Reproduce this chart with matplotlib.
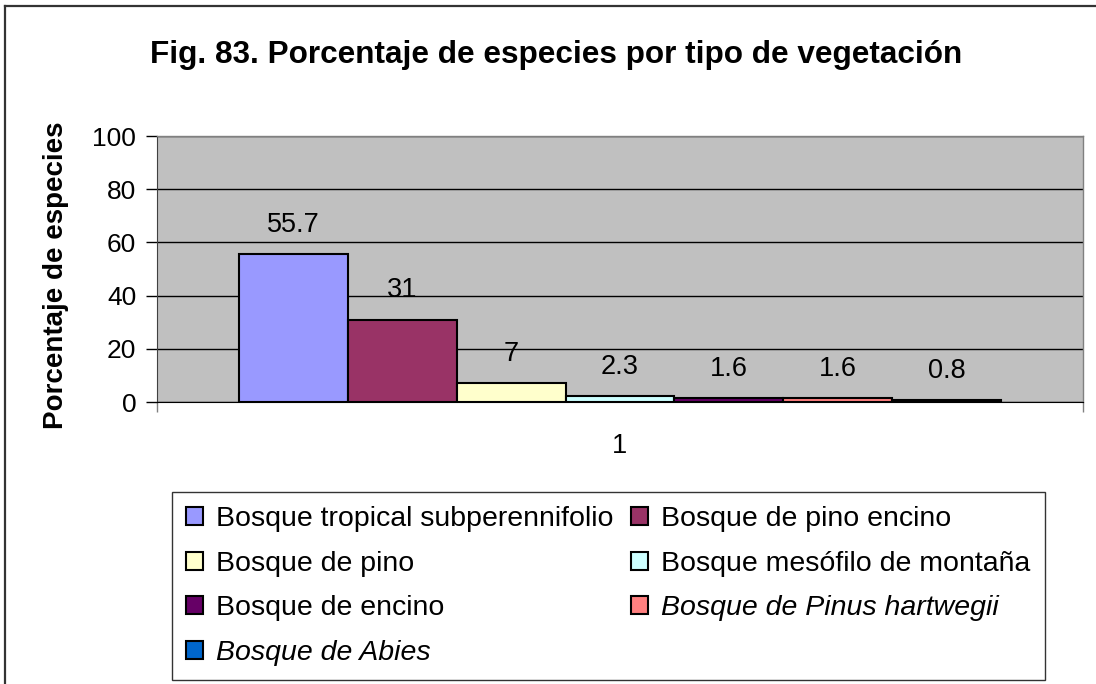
import numpy as np
import matplotlib
matplotlib.use('Agg')
from matplotlib import pyplot as plt
from matplotlib.lines import Line2D

plt.rcParams['font.family'] = ['Liberation Sans', 'DejaVu Sans']

# Porcentaje de especies por tipo de vegetacion
tipos = ['Bosque tropical subperennifolio', 'Bosque de pino encino',
         'Bosque de pino', 'Bosque mesófilo de montaña',
         'Bosque de encino', 'Bosque de Pinus hartwegii',
         'Bosque de Abies']
porcentajes = [55.7, 31, 7, 2.3, 1.6, 1.6, 0.8]
colores = ['#9999FF', '#993366', '#FFFFCC', '#CCFFFF',
           '#660066', '#FF8080', '#0066CC']
cursivas = ['Bosque de Pinus hartwegii', 'Bosque de Abies']
yticks = [0, 20, 40, 60, 80, 100]

W, H = 1096, 684
fig = plt.figure(figsize=(W/100, H/100), dpi=100)
ax = fig.add_axes([157/W, 1 - 402/H, 926/W, 266/H])
ax.set_facecolor('#C0C0C0')

n = len(porcentajes)
w = 0.1175
xs = (np.arange(n) - (n - 1) / 2) * w
barras = ax.bar(xs, porcentajes, width=w, color=colores,
                edgecolor='black', linewidth=1.5, zorder=3)

for x, v in zip(xs, porcentajes):
    ax.annotate('%g' % v, (x, v), xytext=(0, 21), textcoords='offset points',
                ha='center', va='center', fontsize=19.5)

ax.set_xlim(-0.5, 0.5)
ax.set_ylim(0, 100)
ax.set_yticks(yticks)
ax.tick_params(axis='y', labelsize=19, length=8, width=1, direction='out', pad=7)
ax.yaxis.grid(True, color='black', linewidth=1, zorder=1)
ax.set_axisbelow(True)

ax.set_xticks([0])
ax.set_xticklabels(['1'], fontsize=19.5)
ax.tick_params(axis='x', which='major', length=0, pad=22)
ax.set_xticks([-0.5, 0.5], minor=True)
ax.tick_params(axis='x', which='minor', length=7, width=1, color='#808080')

for s in ['top', 'right']:
    ax.spines[s].set_color('#808080')
    ax.spines[s].set_linewidth(1)
ax.spines['left'].set_color('#404040')
ax.spines['bottom'].set_color('black')
ax.spines['bottom'].set_zorder(4)

ax.set_ylabel('Porcentaje de especies', fontsize=20, fontweight='bold')
ax.yaxis.set_label_coords(-88/926, 0.475)

fig.text(556/W, 1 - 63/H, 'Fig. 83. Porcentaje de especies por tipo de vegetación',
         ha='center', va='baseline', fontsize=22.7, fontweight='bold')

# leyenda ordenada por filas
orden = [0, 2, 4, 6, 1, 3, 5]
hs = [barras[i] for i in orden]
ls = [tipos[i] for i in orden]
leg = fig.legend(hs, ls, ncol=2, loc='upper left',
                 bbox_to_anchor=(172/W, 1 - 492/H),
                 fontsize=20.5, frameon=True, fancybox=False,
                 edgecolor='black', handlelength=0.6, handleheight=0.6,
                 handletextpad=0.46, columnspacing=0.6, labelspacing=0.65,
                 borderpad=0.5, borderaxespad=0)
leg.get_frame().set_linewidth(1)
for t in leg.get_texts():
    if t.get_text() in cursivas:
        t.set_fontstyle('italic')

# marco del grafico
fig.add_artist(Line2D([5/W, 5/W], [0, 1 - 6/H], color='#333333', linewidth=1.6))
fig.add_artist(Line2D([5/W, 1], [1 - 6/H, 1 - 6/H], color='#333333', linewidth=1.6))

fig.savefig('out.png', dpi=100)
